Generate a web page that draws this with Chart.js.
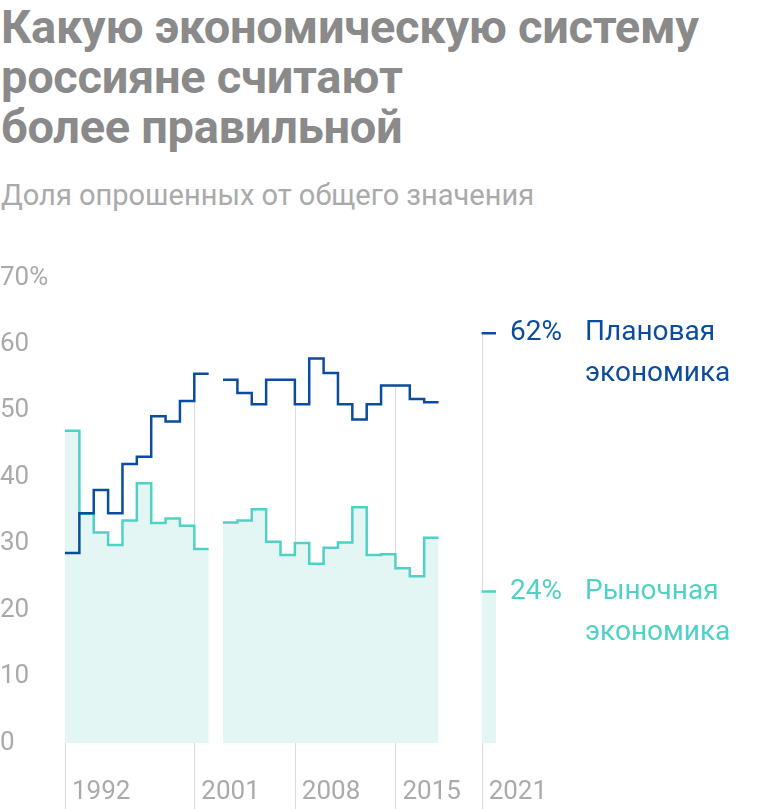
<!DOCTYPE html>
<html><head><meta charset="utf-8">
<script src="https://cdn.jsdelivr.net/npm/chart.js@4"></script>
<style>
body{margin:0;width:760px;height:809px;overflow:hidden;background:#fff;font-family:Roboto,sans-serif;position:relative}
h1{position:absolute;left:1px;top:2px;margin:0;font-size:47px;line-height:50px;font-weight:700;color:#8a8a8a;letter-spacing:-0.3px}
.sub{position:absolute;left:1px;top:178px;font-size:29px;color:#aaa}
#wrap{position:absolute;left:0;top:240px;width:760px;height:569px}
</style></head><body>
<h1>Какую экономическую систему<br>россияне считают<br>более правильной</h1>
<div class="sub">Доля опрошенных от общего значения</div>
<div id="wrap"><canvas id="c"></canvas></div>
<script>
const years=[1992,1993,1994,1995,1996,1997,1998,1999,2000,2001,2003,2004,2005,2006,2007,2008,2009,2010,2011,2012,2013,2014,2015,2016,2017,2021];
const planned=[28.6,34.6,38.1,34.6,42.0,43.1,49.2,48.4,51.5,55.6,54.7,52.7,51.0,54.7,54.7,51.0,57.9,55.7,51.0,48.7,51.0,53.8,53.8,51.8,51.3,61.7];
const market=[47.0,34.5,31.7,29.8,33.5,39.1,33.1,33.8,32.7,29.2,33.2,33.5,35.2,30.3,28.3,30.1,27.0,29.4,30.2,35.5,28.3,28.4,26.3,25.1,30.9,22.8];
const endLabels=['62%','24%'];
const tickYears=[1992,2001,2008,2015,2021];
const yTicks=[0,10,20,30,40,50,60,70];
const BLUE='#0b4c9c',TEAL='#4fd1c5',FILL='#e3f6f3';
function steps(vals){
  const out=[];
  for(let i=0;i<years.length;i++){
    out.push({x:years[i],y:vals[i]});
    const next=years[i+1];
    if(next!==years[i]+1){out.push({x:years[i]+1,y:vals[i]});if(next!==undefined)out.push({x:years[i]+1.5,y:null});}
  }
  return out;
}
const guides={id:'guides',beforeDatasetsDraw(ch){
  const c=ch.ctx,xs=ch.scales.x,ys=ch.scales.y;
  c.save();c.strokeStyle='#dcdcdc';c.lineWidth=1;
  tickYears.forEach(t=>{const i=years.indexOf(t);const x=Math.round(xs.getPixelForValue(t))+0.5;
    c.beginPath();c.moveTo(x,ys.getPixelForValue(planned[i]));c.lineTo(x,ch.height);c.stroke();});
  c.restore();
}};
const labels={id:'labels',afterDatasetsDraw(ch){
  const c=ch.ctx,xs=ch.scales.x,ys=ch.scales.y,n=years.length-1;
  c.save();c.font='28px Roboto';c.textBaseline='middle';
  const x0=xs.getPixelForValue(2022)+14;
  [[planned[n],BLUE,'Плановая',endLabels[0]],[market[n],TEAL,'Рыночная',endLabels[1]]].forEach(([v,col,name,lab])=>{
    const y=ys.getPixelForValue(v);c.fillStyle=col;
    c.fillText(lab,x0,y);
    c.fillText(name,x0+75,y);c.fillText('экономика',x0+75,y+41);
  });
  c.restore();
}};
new Chart(document.getElementById('c'),{
  type:'line',
  data:{datasets:[
    {data:steps(planned),borderColor:BLUE,borderWidth:2.5,stepped:'before',pointRadius:0,fill:false,spanGaps:false},
    {data:steps(market),borderColor:TEAL,borderWidth:2.5,stepped:'before',pointRadius:0,fill:'origin',backgroundColor:FILL,spanGaps:false}
  ]},
  options:{responsive:true,maintainAspectRatio:false,animation:false,
    layout:{padding:{left:0,right:264,top:38,bottom:0}},
    plugins:{legend:{display:false},tooltip:{enabled:false}},
    scales:{
      x:{type:'linear',min:1992,max:2022,grid:{display:false},border:{display:false},
        afterFit(s){s.height=66;},
        afterBuildTicks(s){s.ticks=tickYears.map(v=>({value:v}));},
        ticks:{align:'start',labelOffset:7,padding:26,color:'#aaa',font:{size:26,family:'Roboto'},callback:v=>String(v),autoSkip:false,maxRotation:0}},
      y:{min:0,max:70,grid:{display:false},border:{display:false},
        afterFit(s){s.width=65;},
        afterBuildTicks(s){s.ticks=yTicks.map(v=>({value:v}));},
        ticks:{crossAlign:'far',padding:0,color:'#aaa',font:{size:26,family:'Roboto'},callback:v=>v===70?'70%':String(v)}}
    }},
  plugins:[guides,labels]
});
</script></body></html>
